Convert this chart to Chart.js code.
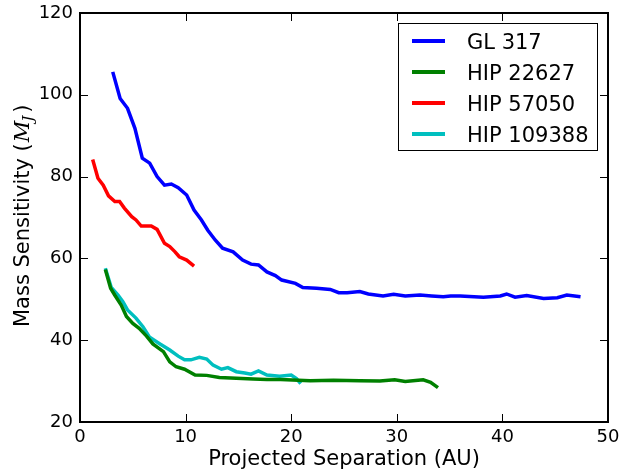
<!DOCTYPE html>
<html>
<head>
<meta charset="utf-8">
<script src="https://cdn.jsdelivr.net/npm/chart.js@4.4.1/dist/chart.umd.min.js"></script>
<style>
  html, body { margin: 0; padding: 0; background: #fff; }
  #wrap { width: 621px; height: 472px; }
</style>
</head>
<body>
<div id="wrap"><canvas id="massChart" width="621" height="472"></canvas></div>
<script>
// separations (AU) and mass sensitivity (M_J)
const gl317Sep = [3.1, 3.8, 4.5, 5.2, 5.9, 6.6, 7.3, 8.0, 8.65, 9.3, 10.1, 10.8, 11.5, 12.1, 12.8, 13.5, 14.5, 15.4, 16.2, 16.9, 17.7, 18.5, 19.1, 20.4, 21.1, 22.4, 23.7, 24.5, 25.3, 26.5, 27.3, 28.7, 29.7, 30.8, 32.2, 33.3, 34.4, 35.1, 36.0, 38.2, 39.8, 40.4, 41.2, 42.3, 43.9, 45.2, 46.1, 47.4];
const gl317Mass = [105.6, 99.1, 96.7, 91.8, 84.5, 83.3, 80.0, 77.9, 78.2, 77.3, 75.5, 71.8, 69.4, 66.9, 64.5, 62.5, 61.6, 59.6, 58.6, 58.4, 56.7, 55.8, 54.7, 53.9, 52.9, 52.7, 52.4, 51.6, 51.6, 51.9, 51.3, 50.8, 51.2, 50.8, 51.05, 50.8, 50.6, 50.8, 50.8, 50.5, 50.8, 51.3, 50.5, 50.9, 50.2, 50.4, 51.05, 50.6];

const hip22627Sep = [2.4, 2.9, 3.3, 3.9, 4.4, 5.0, 5.6, 6.3, 6.9, 7.9, 8.5, 9.1, 9.9, 10.9, 12.0, 13.2, 14.8, 16.4, 17.7, 19.0, 21.8, 24.0, 26.5, 28.4, 29.8, 30.8, 32.5, 33.2, 33.9];
const hip22627Mass = [57.3, 52.7, 51.0, 48.6, 45.8, 44.1, 42.9, 41.0, 39.1, 37.2, 34.7, 33.5, 32.9, 31.5, 31.4, 30.9, 30.7, 30.5, 30.4, 30.4, 30.1, 30.2, 30.1, 30.0, 30.3, 29.9, 30.3, 29.7, 28.4];

const hip57050Sep = [1.2, 1.7, 2.2, 2.7, 3.3, 3.75, 4.2, 4.9, 5.3, 5.8, 6.75, 7.3, 8.0, 8.5, 9.0, 9.4, 10.1, 10.8];
const hip57050Mass = [84.2, 79.6, 77.9, 75.3, 73.9, 73.9, 72.3, 70.2, 69.4, 67.9, 67.9, 67.1, 63.7, 62.9, 61.6, 60.4, 59.6, 58.1];

const hip109388Sep = [2.4, 2.96, 3.6, 4.06, 4.5, 5.3, 5.96, 6.6, 7.5, 8.5, 9.3, 9.9, 10.5, 11.3, 12.0, 12.6, 13.4, 14.0, 14.8, 15.6, 16.2, 16.9, 17.7, 18.9, 20.0, 20.5, 20.9];
const hip109388Mass = [57.6, 52.9, 51.05, 49.4, 47.4, 45.4, 43.3, 40.7, 39.2, 37.6, 36.1, 35.2, 35.2, 35.8, 35.4, 33.9, 32.9, 33.3, 32.3, 32.0, 31.7, 32.5, 31.5, 31.2, 31.5, 30.6, 29.4];

const seriesLabels = ["GL 317", "HIP 22627", "HIP 57050", "HIP 109388"];
const seriesColors = ["#0000ff", "#008000", "#ff0000", "#00bfbf"];

function pts(xs, ys) {
    return xs.map((x, i) => ({ x: x, y: ys[i] }));
}

const allSeries = [
    pts(gl317Sep, gl317Mass),
    pts(hip22627Sep, hip22627Mass),
    pts(hip57050Sep, hip57050Mass),
    pts(hip109388Sep, hip109388Mass),
];

const FONT = "DejaVu Sans";

// frame, inward ticks, y title and the boxed legend
const mplLook = {
    id: "mplLook",
    afterDraw(chart) {
        const ctx = chart.ctx;
        const a = chart.chartArea;
        const xs = chart.scales.x, ys = chart.scales.y;
        ctx.save();
        ctx.strokeStyle = "#000";

        // ticks on all four sides
        ctx.lineWidth = 1;
        ctx.beginPath();
        xs.ticks.forEach(t => {
            const px = Math.round(xs.getPixelForValue(t.value)) + 0.5;
            ctx.moveTo(px, a.bottom); ctx.lineTo(px, a.bottom - 8);
            ctx.moveTo(px, a.top); ctx.lineTo(px, a.top + 8);
        });
        ys.ticks.forEach(t => {
            const py = Math.round(ys.getPixelForValue(t.value)) + 0.5;
            ctx.moveTo(a.left, py); ctx.lineTo(a.left + 8, py);
            ctx.moveTo(a.right, py); ctx.lineTo(a.right - 8, py);
        });
        ctx.stroke();

        ctx.lineWidth = 2;
        ctx.strokeRect(a.left, a.top, a.right - a.left, a.bottom - a.top);

        // y axis title with math M_J
        ctx.fillStyle = "#000";
        ctx.translate(29, 327);
        ctx.rotate(-Math.PI / 2);
        ctx.textBaseline = "alphabetic";
        ctx.textAlign = "left";
        ctx.font = "21px '" + FONT + "'";
        const main = "Mass Sensitivity (";
        ctx.fillText(main, 0, 0);
        let cx = ctx.measureText(main).width + 1;
        ctx.font = "italic 21px 'DejaVu Serif'";
        ctx.fillText("M", cx, 0);
        cx += ctx.measureText("M").width;
        ctx.font = "italic 15px 'DejaVu Serif'";
        ctx.fillText("J", cx - 1, 4);
        cx += ctx.measureText("J").width + 2;
        ctx.font = "21px '" + FONT + "'";
        ctx.fillText(")", cx, 0);
        ctx.setTransform(1, 0, 0, 1, 0, 0);

        // legend box
        ctx.lineWidth = 1;
        ctx.fillStyle = "#fff";
        ctx.fillRect(398.5, 23.5, 199, 127);
        ctx.strokeRect(398.5, 23.5, 199, 127);
        ctx.font = "21px '" + FONT + "'";
        chart.data.datasets.forEach((ds, i) => {
            const y = 41 + i * 31;
            ctx.strokeStyle = ds.borderColor;
            ctx.lineWidth = 4;
            ctx.beginPath();
            ctx.moveTo(412, y); ctx.lineTo(445, y);
            ctx.stroke();
            ctx.fillStyle = "#000";
            ctx.fillText(ds.label, 467, y + 7.5);
        });
        ctx.restore();
    }
};

const config = {
    type: "line",
    data: {
        datasets: allSeries.map((d, i) => ({
            label: seriesLabels[i],
            data: d,
            borderColor: seriesColors[i],
            backgroundColor: seriesColors[i],
            borderWidth: 3.5,
            pointRadius: 0,
            tension: 0,
            fill: false,
        })),
    },
    options: {
        responsive: false,
        animation: false,
        layout: { padding: { top: 13, right: 13, left: 0, bottom: 0 } },
        plugins: {
            legend: { display: false },
            tooltip: { enabled: false },
        },
        scales: {
            x: {
                type: "linear",
                min: 0,
                max: 50,
                grid: { display: false, drawTicks: false },
                border: { display: false },
                ticks: { stepSize: 10, color: "#000", padding: 5, font: { family: FONT, size: 18 }, maxRotation: 0 },
                title: { display: true, text: "Projected Separation (AU)", color: "#000", font: { family: FONT, size: 21 }, padding: { top: 0, bottom: 0 } },
                afterFit: s => { s.height = 50; s.paddingLeft = 0; s.paddingRight = 0; },
            },
            y: {
                min: 20,
                max: 120,
                grid: { display: false, drawTicks: false },
                border: { display: false },
                ticks: { stepSize: 20, color: "#000", padding: 7, font: { family: FONT, size: 18 } },
                afterFit: s => { s.width = 80; s.paddingTop = 0; s.paddingBottom = 0; },
            },
        },
    },
    plugins: [mplLook],
};

new Chart(document.getElementById("massChart").getContext("2d"), config);
</script>
</body>
</html>
